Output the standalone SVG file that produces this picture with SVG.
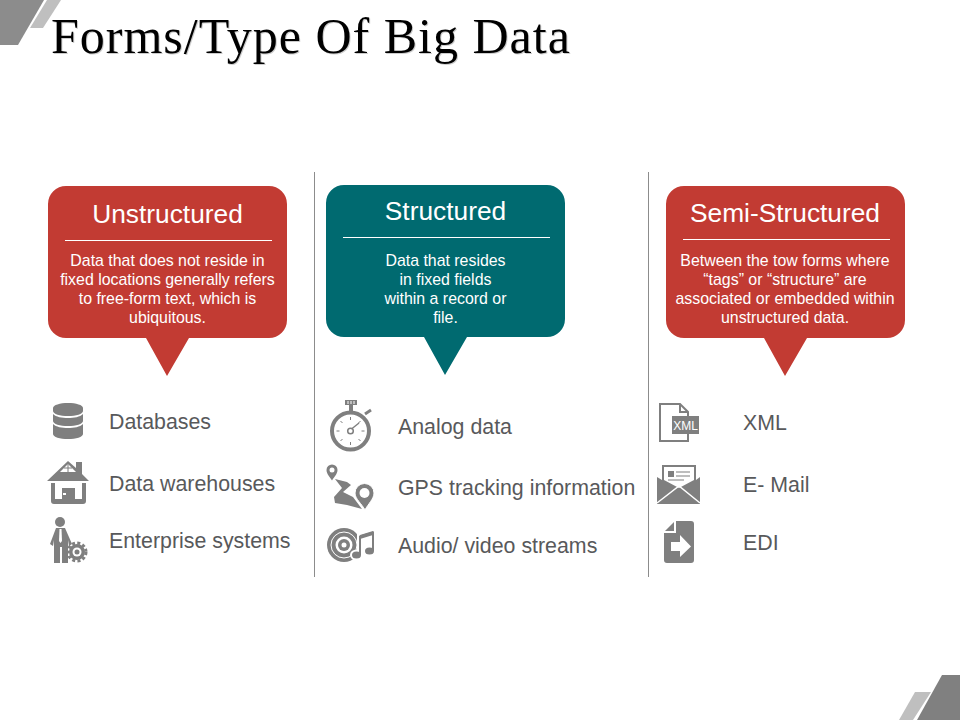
<svg xmlns="http://www.w3.org/2000/svg" width="960" height="720" viewBox="0 0 960 720">
<style>
text{font-family:"Liberation Sans",Arial,sans-serif}
.title{font-family:"Liberation Serif","Times New Roman",serif;font-size:50px;letter-spacing:1px;fill:#000;filter:drop-shadow(1px 1px 0 #ccc)}
.h{font-size:26.300px;fill:#fff;text-anchor:middle}
.b{font-size:15.900px;fill:#fff;text-anchor:middle}
.l{font-size:21.350px;fill:#58595b}
.i{fill:#7f7f7f}
.w{fill:#fff}
.s{fill:none;stroke:#7f7f7f}
.rule{stroke:#fff;stroke-width:1}
.sep{stroke:#8c8c8c;stroke-width:1}
.red{fill:#c23b33}
.teal{fill:#006a70}
</style>
<rect width="960" height="720" fill="#fff"/>
<g id="decor">
<polygon points="0,0 44,0 18,45 0,45" fill="#8c8c8c"/>
<polygon points="47,0 61,0 43,28 30,28" fill="#bfbfbf"/>
<polygon points="942,675 960,675 960,720 917,720" fill="#808080"/>
<polygon points="915,692 931,692 913,720 899,720" fill="#bfbfbf"/>
</g>
<text id="title" class="title" x="51" y="53">Forms/Type Of Big Data</text>
<g id="connectors">
<line class="sep" x1="314.500" y1="172" x2="314.500" y2="577"/>
<line class="sep" x1="648.500" y1="172" x2="648.500" y2="577"/>
</g>
<g id="callout-unstructured">
<path class="red" d="M66 186H269a18 18 0 0 1 18 18V320a18 18 0 0 1-18 18H189L167 376L146 338H66a18 18 0 0 1-18-18V204a18 18 0 0 1 18-18Z"/>
<text class="h" x="167.500" y="223">Unstructured</text>
<line class="rule" x1="65" y1="240.500" x2="272" y2="240.500"/>
<text class="b" x="167.500" y="266">Data that does not reside in</text>
<text class="b" x="167.500" y="285">fixed locations generally refers</text>
<text class="b" x="167.500" y="304">to free-form text, which is</text>
<text class="b" x="167.500" y="323">ubiquitous.</text>
</g>
<g id="callout-structured">
<path class="teal" d="M344 185H547a18 18 0 0 1 18 18V319a18 18 0 0 1-18 18H467L445 375L424 337H344a18 18 0 0 1-18-18V203a18 18 0 0 1 18-18Z"/>
<text class="h" x="445.500" y="220">Structured</text>
<line class="rule" x1="343" y1="237.500" x2="550" y2="237.500"/>
<text class="b" x="445.500" y="266">Data that resides</text>
<text class="b" x="445.500" y="285">in fixed fields</text>
<text class="b" x="445.500" y="304">within a record or</text>
<text class="b" x="445.500" y="323">file.</text>
</g>
<g id="callout-semi">
<path class="red" d="M684 186H887a18 18 0 0 1 18 18V320a18 18 0 0 1-18 18H807L785 376L764 338H684a18 18 0 0 1-18-18V204a18 18 0 0 1 18-18Z"/>
<text class="h" x="785" y="222">Semi-Structured</text>
<line class="rule" x1="683" y1="239.500" x2="890" y2="239.500"/>
<text class="b" x="785" y="266">Between the tow forms where</text>
<text class="b" x="785" y="285">“tags” or “structure” are</text>
<text class="b" x="785" y="304">associated or embedded within</text>
<text class="b" x="785" y="323">unstructured data.</text>
</g>
<g id="item-databases">
<path class="i" d="M53 408c0-3 7-5 15-5s15 2 15 5v3c0 3-7 5-15 5s-15-2-15-5Z"/>
<path class="i" d="M53 414c3 3 9 4 15 4s12-1 15-4v7c0 3-7 5-15 5s-15-2-15-5Z"/>
<path class="i" d="M53 424c3 3 9 4 15 4s12-1 15-4v10c0 3-7 5-15 5s-15-2-15-5Z"/>
<text class="l" x="109" y="429">Databases</text>
</g>
<g id="item-warehouses">
<path class="i" d="M47 481L68 461L76 468V462H82V474L89 481Z"/>
<path class="w" d="M68 464L60 472H76Z"/>
<path class="s" d="M68 464V472M64 468H72" stroke-width="1"/>
<path class="i" d="M51 483H55V499H82V483H86V501Q86 504 83 504H54Q51 504 51 501Z"/>
<path class="i" d="M62 488H75V504H62Z"/>
<rect class="w" x="63" y="493" width="3" height="2"/>
<text class="l" x="109" y="491">Data warehouses</text>
</g>
<g id="item-enterprise">
<circle class="i" cx="60" cy="522" r="5"/>
<path class="i" d="M56 528H65L72 544L69 546L68 540V563H62V547H60V563H54V540L53 546L50 544Z"/>
<path class="w" d="M59.500 529H61.500L62 541L60.500 543L59 541Z"/>
<circle class="i" cx="77" cy="552" r="8"/>
<circle class="s" stroke-width="3" stroke-dasharray="3 2.300" cx="77" cy="552" r="9"/>
<circle class="w" cx="77" cy="552" r="4.500"/>
<circle class="i" cx="77" cy="552" r="2.500"/>
<text class="l" x="109" y="548">Enterprise systems</text>
</g>
<g id="item-analog">
<rect class="i" x="345" y="400" width="12" height="5"/>
<path d="M348 401V404M351 401V404M354 401V404" stroke="#fff" stroke-width="1"/>
<rect class="i" x="349" y="405" width="4" height="7"/>
<path d="M365 414L371 410" stroke="#7f7f7f" stroke-width="3"/>
<circle cx="350.500" cy="431" r="18.500" fill="#fff" stroke="#7f7f7f" stroke-width="4"/>
<path d="M350.500 417V420M350.500 442V445M336.500 431H339.500M361.500 431H364.500M340.500 421L342.500 423M358.500 439L360.500 441M340.500 441L342.500 439M358.500 423L360.500 421" class="s" stroke-width="1"/>
<path d="M351.500 429L359 423" class="s" stroke-width="1.500"/>
<circle cx="350.500" cy="431" r="2.800" class="s" stroke-width="1.500"/>
<text class="l" x="398" y="434">Analog data</text>
</g>
<g id="item-gps">
<path class="i" d="M326.500 470a5.500 5.500 0 1 1 11 0C337.500 474 334 477 332 480.500C330 477 326.500 474 326.500 470Z"/>
<circle class="w" cx="332" cy="470" r="2.500"/>
<path class="i" d="M335 479L347 482L351 485L343 492L353 497L362 509L347 505L335 503L334 497L342 488Z"/>
<path class="i" d="M355 493a9.500 9.500 0 1 1 19 0C374 499 368 504 365 510C362 504 355 499 355 493Z" stroke="#fff" stroke-width="1"/>
<circle class="w" cx="364.500" cy="493" r="5"/>
<text class="l" x="398" y="495">GPS tracking information</text>
</g>
<g id="item-audio">
<circle class="i" cx="344" cy="545" r="17"/>
<circle cx="344" cy="545" r="13" fill="none" stroke="#fff" stroke-width="1"/>
<circle class="w" cx="344" cy="545" r="8.500"/>
<circle class="i" cx="344" cy="545" r="6"/>
<circle class="w" cx="344" cy="545" r="2.500"/>
<path d="M360 554V536L373 532V550" fill="none" stroke="#fff" stroke-width="6"/>
<ellipse class="w" cx="356.500" cy="555" rx="6.500" ry="5.500"/>
<path d="M360 555V536.500L373 532.500V551" class="s" stroke-width="2"/>
<path class="i" d="M360 535L373 531V535L360 539Z"/>
<ellipse class="i" cx="356.500" cy="555" rx="4.500" ry="3.500"/>
<ellipse class="i" cx="369.500" cy="551" rx="4.500" ry="3.500"/>
<text class="l" x="398" y="553">Audio/ video streams</text>
</g>
<g id="item-xml">
<path d="M660 404H680L688 412V441H660Z" fill="#fff" stroke="#7f7f7f" stroke-width="2"/>
<path d="M680 404V412H688" class="s" stroke-width="2"/>
<rect class="i" x="672" y="416" width="27" height="18"/>
<text x="685.500" y="430" font-size="12" fill="#fff" text-anchor="middle">XML</text>
<text class="l" x="743" y="430">XML</text>
</g>
<g id="item-email">
<path class="i" d="M662 480V465H696V480L700 477V504H657V477Z"/>
<path class="w" d="M664 467H694V480L679 488L664 480Z"/>
<rect class="i" x="668" y="471" width="6" height="6"/>
<path d="M676 472H690M676 476H690M668 480H684" stroke="#7f7f7f" stroke-width="1.200"/>
<path d="M657 503L679 486L700 503" fill="none" stroke="#fff" stroke-width="1.500"/>
<text class="l" x="743" y="492">E- Mail</text>
</g>
<g id="item-edi">
<path class="i" d="M676 521H691Q694 521 694 524V560Q694 563 691 563H667Q664 563 664 560V533H676Z"/>
<path class="i" d="M665 531L674 522V531Z"/>
<path class="w" d="M671 542H680V535L691 546.500L680 557V551H671Z"/>
<text class="l" x="743" y="550">EDI</text>
</g>
</svg>
